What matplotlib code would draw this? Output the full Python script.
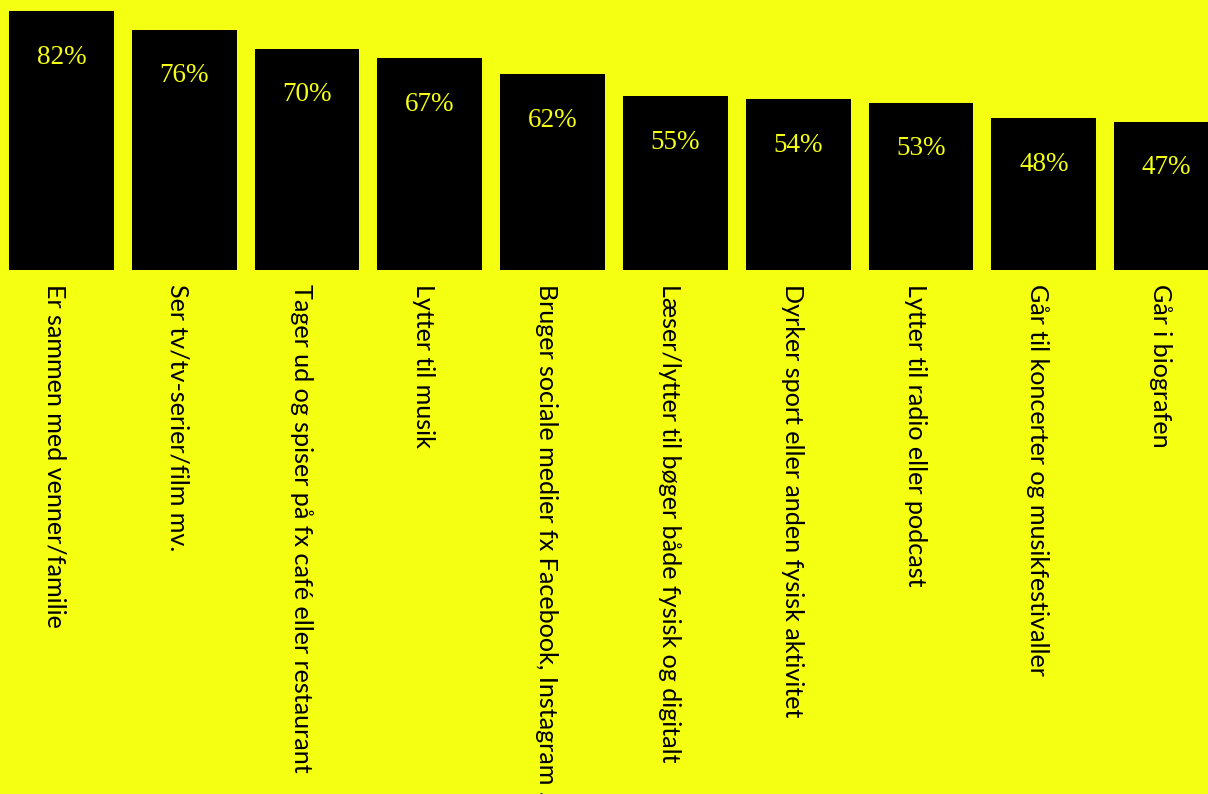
import numpy as np
import matplotlib
matplotlib.use("Agg")
import matplotlib.pyplot as plt
import matplotlib.transforms as mtransforms

categories = [
    "Er sammen med venner/familie",
    "Ser tv/tv-serier/film mv.",
    "Tager ud og spiser på fx café eller restaurant",
    "Lytter til musik",
    "Bruger sociale medier fx Facebook, Instagram ...",
    "Læser/lytter til bøger både fysisk og digitalt",
    "Dyrker sport eller anden fysisk aktivitet",
    "Lytter til radio eller podcast",
    "Går til koncerter og musikfestivaller",
    "Går i biografen",
]
values = [82, 76, 70, 67, 62, 55, 54, 53, 48, 47]

BG = "#F5FF12"

fig = plt.figure(figsize=(12.08, 7.94), dpi=100, facecolor=BG)
# axes runs a little past the right edge, as in the reference
ax = fig.add_axes([0.0, 1 - 270 / 794, 1228 / 1208, (270 - 11) / 794])
ax.set_facecolor(BG)

x = np.arange(len(categories))
ax.bar(x, values, width=0.855, color="black")

for xi, v in zip(x, values):
    ax.annotate(f"{v}%", (xi, v), xytext=(0, -46), textcoords="offset pixels",
                ha="center", va="center", color=BG,
                family="Liberation Serif", fontsize=19.5)

ax.set_xlim(-0.5, len(categories) - 0.5)
ax.set_ylim(0, max(values))
ax.set_yticks([])
ax.set_xticks(x)
ax.set_xticklabels(categories, rotation=-90, ha="center", va="top",
                   family="Lato", fontsize=18.1, color="black")
ax.tick_params(axis="x", length=0, pad=10)
shift = mtransforms.ScaledTranslation(-6 / 100, 0, fig.dpi_scale_trans)
for lbl in ax.get_xticklabels():
    lbl.set_transform(lbl.get_transform() + shift)
for s in ax.spines.values():
    s.set_visible(False)

fig.savefig("out.png", dpi=100, facecolor=BG)
